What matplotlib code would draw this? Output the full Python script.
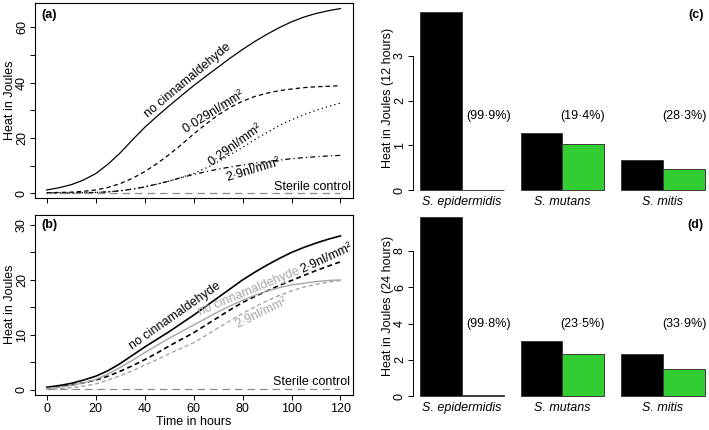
import matplotlib
matplotlib.use("Agg")
import matplotlib.pyplot as plt

plt.rcParams['font.family'] = ['Liberation Sans', 'DejaVu Sans']
plt.rcParams['font.size'] = 9

# time axis for the heat curves (hours)
hours = list(range(0, 121, 5))

# panel (a): S. epidermidis, heat in Joules
a_none = [1.2, 2.0, 3.1, 4.8, 7.1, 10.5, 14.6, 19.3, 23.8, 27.8, 31.6, 35.3, 38.9,
          42.3, 45.6, 48.9, 52.0, 54.9, 57.5, 59.9, 62.0, 63.7, 65.0, 66.0, 66.8]
a_0029 = [0.2, 0.3, 0.4, 0.7, 1.2, 2.1, 3.5, 5.4, 7.8, 10.7, 14.0, 17.6, 21.4,
          25.0, 28.3, 31.1, 33.3, 35.0, 36.2, 37.1, 37.7, 38.2, 38.5, 38.7, 38.9]
a_029 = [0.1, 0.1, 0.1, 0.2, 0.3, 0.5, 0.9, 1.5, 2.3, 3.3, 4.4, 5.7, 7.2,
         9.1, 11.4, 14.0, 16.6, 19.4, 22.0, 24.5, 26.6, 28.4, 30.0, 31.4, 32.6]
a_29 = [0.1, 0.1, 0.1, 0.2, 0.3, 0.5, 0.9, 1.5, 2.3, 3.3, 4.4, 5.7, 6.8,
        7.8, 8.7, 9.5, 10.2, 10.9, 11.5, 12.0, 12.5, 12.9, 13.2, 13.5, 13.7]
a_sterile = [0.2] * 25

# panel (b): black and grey series
b_none_k = [0.5, 0.8, 1.2, 1.8, 2.5, 3.5, 4.8, 6.3, 7.8, 9.2, 10.6, 12.1, 13.6,
            15.2, 16.8, 18.4, 20.0, 21.4, 22.7, 23.9, 25.0, 25.9, 26.7, 27.4, 28.0]
b_29_k = [0.4, 0.6, 0.9, 1.3, 1.8, 2.5, 3.4, 4.4, 5.5, 6.7, 8.0, 9.2, 10.4,
          11.8, 13.2, 14.6, 15.9, 17.0, 18.0, 19.0, 19.9, 20.8, 21.7, 22.5, 23.3]
b_none_g = [0.3, 0.5, 0.8, 1.3, 1.9, 2.9, 4.1, 5.4, 6.8, 8.1, 9.4, 10.6, 11.8,
            13.0, 14.2, 15.3, 16.3, 17.2, 18.0, 18.6, 19.1, 19.4, 19.7, 19.9, 20.0]
b_29_g = [0.1, 0.2, 0.4, 0.7, 1.1, 1.8, 2.6, 3.5, 4.5, 5.5, 6.6, 7.6, 8.6,
          9.9, 11.3, 12.6, 13.9, 15.1, 16.2, 17.2, 18.0, 18.7, 19.2, 19.6, 19.9]
b_sterile = [0.2] * 25

# panels (c) and (d): bar charts
species = ['S. epidermidis', 'S. mutans', 'S. mitis']
c_ctrl = [3.99, 1.28, 0.67]
c_cinn = [0.004, 1.04, 0.48]
c_pct = ['(99·9%)', '(19·4%)', '(28·3%)']
d_ctrl = [9.86, 3.05, 2.30]
d_cinn = [0.08, 2.34, 1.51]
d_pct = ['(99·8%)', '(23·5%)', '(33·9%)']

W, H = 709, 430
fig = plt.figure(figsize=(W / 100, H / 100), dpi=100)


def box(l, t, r, b):
    return [l / W, 1 - b / H, (r - l) / W, (b - t) / H]


def ylab_at(ax, text, px, l, r):
    ax.set_ylabel(text)
    ax.yaxis.set_label_coords((px - l) / (r - l), 0.5)


GREY = '#a6a6a6'
STER = '#8c8c8c'

# ---- (a)
ax = fig.add_axes(box(35, 3, 352.7, 197.7))
ax.plot(hours, a_none, color='black', lw=0.9)
ax.plot(hours, a_0029, color='black', lw=0.9, ls=(0, (3.5, 2.5)))
ax.plot(hours, a_029, color='black', lw=0.9, ls=(0, (1, 2.5)))
ax.plot(hours, a_29, color='black', lw=0.9, ls=(0, (1, 2.5, 4, 2.5)))
ax.plot(hours, a_sterile, color=STER, lw=0.9, ls=(0, (6, 4)))
ax.set_xlim(-4.8, 125)
ax.set_ylim(-1.6, 68.8)
ax.set_xticks(range(0, 121, 20))
ax.set_xticklabels([])
ax.set_yticks(range(0, 61, 10))
ax.set_yticklabels(['0', '', '20', '', '40', '', '60'])
ax.tick_params(length=3.6, width=0.7, pad=1.5)
ax.tick_params(axis='y', labelrotation=90)
for lab in ax.get_yticklabels():
    lab.set_va('center')
ylab_at(ax, 'Heat in Joules', 16, 35, 352.7)
ax.text(57.5, 40.9, 'no cinnamaldehyde', rotation=40, ha='center', va='center', rotation_mode='anchor')
ax.text(68.1, 29.5, '0·029nl/mm²', rotation=32, ha='center', va='center', rotation_mode='anchor')
ax.text(77.0, 17.5, '0·29nl/mm²', rotation=36, ha='center', va='center', rotation_mode='anchor')
ax.text(84.5, 8.4, '2·9nl/mm²', rotation=17, ha='center', va='center', rotation_mode='anchor')
ax.text(124.3, 2.4, 'Sterile control', ha='right', va='center')
ax.text(-2.3, 64.5, '(a)', fontweight='bold', ha='left', va='center')

# ---- (b)
ax = fig.add_axes(box(35, 215, 352.7, 394.5))
ax.plot(hours, b_none_k, color='black', lw=1.2)
ax.plot(hours, b_29_k, color='black', lw=1.2, ls=(0, (3, 2)))
ax.plot(hours, b_none_g, color=GREY, lw=1.0)
ax.plot(hours, b_29_g, color=GREY, lw=1.0, ls=(0, (3, 2)))
ax.plot(hours, b_sterile, color=STER, lw=0.9, ls=(0, (6, 4)))
ax.set_xlim(-4.8, 125)
ax.set_ylim(-0.82, 31.8)
ax.set_xticks(range(0, 121, 20))
ax.set_yticks(range(0, 31, 5))
ax.set_yticklabels(['0', '', '10', '', '20', '', '30'])
ax.tick_params(length=3.6, width=0.7, pad=1.5)
ax.tick_params(axis='x', pad=2.5)
ax.tick_params(axis='y', labelrotation=90)
for lab in ax.get_yticklabels():
    lab.set_va('center')
ax.set_xlabel('Time in hours', labelpad=1)
ylab_at(ax, 'Heat in Joules', 16, 35, 352.7)
ax.text(52.3, 13.4, 'no cinnamaldehyde', rotation=35, ha='center', va='center', rotation_mode='anchor')
ax.text(82.6, 17.9, 'no cinnamaldehyde', color=GREY, rotation=22.5, ha='center', va='center', rotation_mode='anchor')
ax.text(87.6, 13.9, '2·9nl/mm²', color=GREY, rotation=26, ha='center', va='center', rotation_mode='anchor')
ax.text(114.2, 23.9, '2·9nl/mm²', rotation=25, ha='center', va='center', rotation_mode='anchor')
ax.text(123.8, 1.45, 'Sterile control', ha='right', va='center')
ax.text(-2.3, 29.9, '(b)', fontweight='bold', ha='left', va='center')


# ---- (c) and (d)
def bars(rect, ctrl, cinn, pct, ytop, yticks, ylabel, pct_y, tag):
    l, t, r, b = rect
    ax = fig.add_axes(box(l, t, r, b))
    left = [0, 2.4, 4.8]
    ax.bar(left, ctrl, width=1, align='edge', color='black', edgecolor='#3a3a3a', lw=0.7, clip_on=False)
    ax.bar([x + 1 for x in left], cinn, width=1, align='edge', color='#32CD32', edgecolor='#3a3a3a',
           lw=0.7, clip_on=False)
    ax.set_xlim(-0.167, 6.9)
    ax.set_ylim(0, ytop)
    for s in ['top', 'right', 'bottom']:
        ax.spines[s].set_visible(False)
    ax.spines['left'].set_bounds(yticks[0], yticks[-1])
    ax.spines['left'].set_linewidth(0.7)
    ax.set_yticks(yticks)
    ax.tick_params(axis='y', length=3.6, width=0.7, pad=1.5, labelrotation=90)
    for lab in ax.get_yticklabels():
        lab.set_va('center')
    ax.set_xticks([x + 1 for x in left])
    ax.set_xticklabels(species, fontstyle='italic')
    ax.tick_params(axis='x', length=0, pad=4)
    ylab_at(ax, ylabel, 394, l, r)
    for x, p in zip([1.64, 3.89, 6.32], pct):
        ax.text(x, pct_y, p, ha='center', va='center')
    ax.text(0.955, 1 - 10 / (b - t), tag, transform=ax.transAxes, fontweight='bold', ha='center', va='center')


bars((413, 5, 709, 190), c_ctrl, c_cinn, c_pct, 4.14, [0, 1, 2, 3],
     'Heat in Joules (12 hours)', 1.65, '(c)')
bars((413, 215, 709, 396), d_ctrl, d_cinn, d_pct, 9.99, [0, 2, 4, 6, 8],
     'Heat in Joules (24 hours)', 4.0, '(d)')

fig.savefig('out.png', dpi=100)
